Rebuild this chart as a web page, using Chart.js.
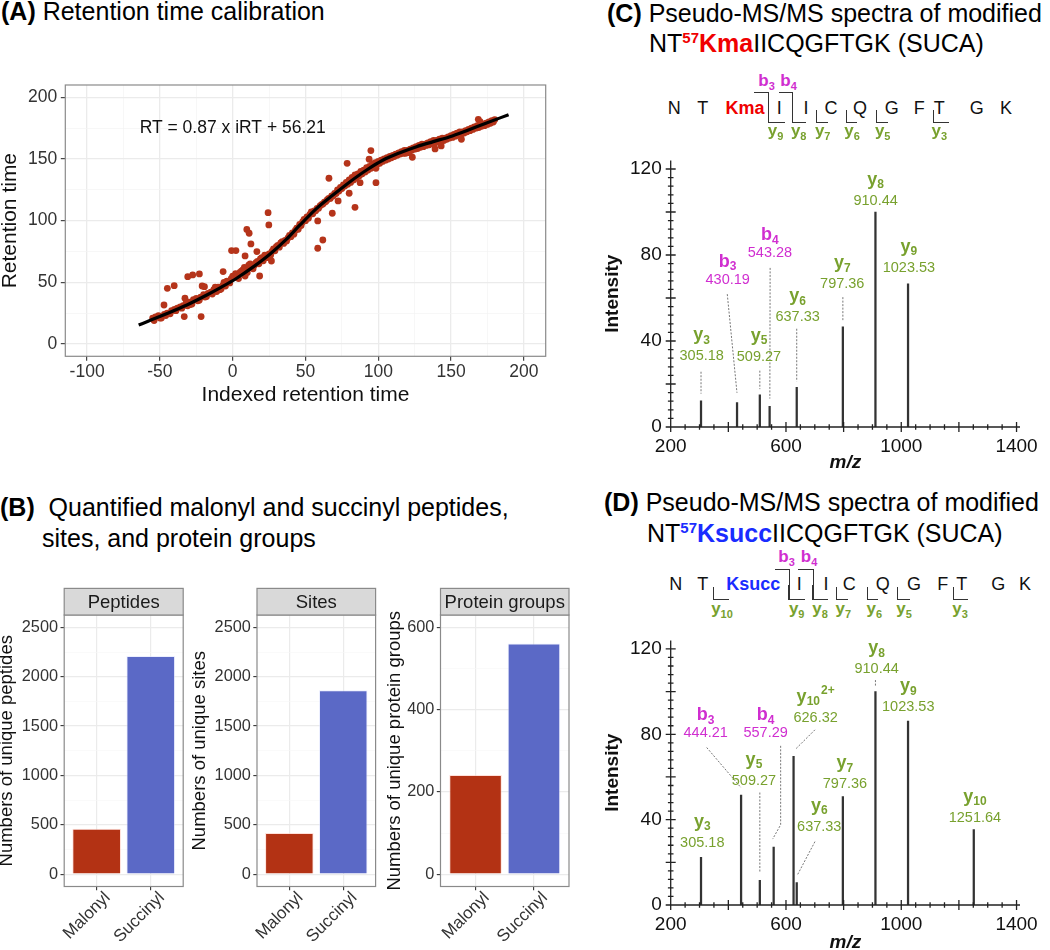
<!DOCTYPE html>
<html>
<head>
<meta charset="utf-8">
<title>Malonyl / succinyl figure</title>
<script src="https://cdn.jsdelivr.net/npm/chart.js@4.4.1/dist/chart.umd.min.js"></script>
<style>
  html, body { margin:0; padding:0; background:#fff; }
  body { position:relative; width:1050px; height:950px; overflow:hidden; font-family:'Liberation Sans', Arial, Helvetica, sans-serif; color:#000; }
  canvas { position:absolute; }
  .t { position:absolute; white-space:nowrap; font-size:25px; line-height:25px; }
  .sup { font-size:15px; font-weight:bold; position:relative; top:-9.5px; }
  .red { color:#f00000; } .blue { color:#1a2cff; }
  .pl { position:absolute; font-size:18px; line-height:18px; transform:translate(-50%,-50%); white-space:nowrap; color:#111; }
  .il { position:absolute; font-size:17px; line-height:17px; font-weight:bold; transform:translate(-50%,-50%); white-space:nowrap; }
  .il sub { font-size:11px; vertical-align:baseline; position:relative; top:4px; }
  .g { color:#78a12e; } .m { color:#d02ed0; }
  .bk { position:absolute; box-sizing:border-box; border:0 solid #333; }
  .bt { border-top-width:1.3px; border-right-width:1.3px; }
  .yb { border-left-width:1.3px; border-bottom-width:1.3px; }
</style>
</head>
<body>
<canvas id="cA" width="560" height="340" style="left:0;top:70px"></canvas>
<canvas id="cB1" width="190" height="380" style="left:0;top:570px"></canvas>
<canvas id="cB2" width="190" height="380" style="left:190px;top:570px"></canvas>
<canvas id="cB3" width="200" height="380" style="left:380px;top:570px"></canvas>
<canvas id="cC" width="460" height="340" style="left:590px;top:140px"></canvas>
<canvas id="cD" width="460" height="340" style="left:590px;top:620px"></canvas>

<!-- panel titles -->
<div class="t" style="left:1px;top:-1px"><b>(A)</b> Retention time calibration</div>
<div class="t" style="left:0px;top:495px"><b>(B)</b>&nbsp; Quantified malonyl and succinyl peptides,</div>
<div class="t" style="left:42px;top:526px">sites, and protein groups</div>
<div class="t" style="left:607px;top:1px"><b>(C)</b> Pseudo-MS/MS spectra of modified</div>
<div class="t" style="left:649px;top:31px">NT<span class="sup red">57</span><b class="red">Kma</b>IICQGFTGK (SUCA)</div>
<div class="t" style="left:604px;top:489.5px"><b>(D)</b> Pseudo-MS/MS spectra of modified</div>
<div class="t" style="left:647px;top:521px">NT<span class="sup blue">57</span><b class="blue">Ksucc</b>IICQGFTGK (SUCA)</div>

<!-- fragment map C -->
<div class="pl" style="left:674.3px;top:108.3px">N</div>
<div class="pl" style="left:702.7px;top:108.3px">T</div>
<div class="pl" style="left:745px;top:108.3px;font-weight:bold;color:#f00000">Kma</div>
<div class="pl" style="left:779.3px;top:108.3px">I</div>
<div class="pl" style="left:806px;top:108.3px">I</div>
<div class="pl" style="left:831px;top:108.3px">C</div>
<div class="pl" style="left:860px;top:108.3px">Q</div>
<div class="pl" style="left:891.7px;top:108.3px">G</div>
<div class="pl" style="left:919.3px;top:108.3px">F</div>
<div class="pl" style="left:939.3px;top:108.3px">T</div>
<div class="pl" style="left:976.7px;top:108.3px">G</div>
<div class="pl" style="left:1006px;top:108.3px">K</div>
<div class="bk bt" style="left:754px;top:92px;width:15.3px;height:30.5px"></div>
<div class="bk yb" style="left:768px;top:108px;width:16.5px;height:14.5px"></div>
<div class="bk bt" style="left:779px;top:92px;width:14px;height:30.5px"></div>
<div class="bk yb" style="left:791.7px;top:108px;width:14px;height:14.5px"></div>
<div class="bk yb" style="left:816.3px;top:110px;width:11.5px;height:12.5px"></div>
<div class="bk yb" style="left:845.7px;top:110px;width:11px;height:12.5px"></div>
<div class="bk yb" style="left:876.3px;top:110px;width:11.5px;height:12.5px"></div>
<div class="bk yb" style="left:933px;top:110px;width:15.5px;height:12.5px"></div>
<div class="il m" style="left:766.5px;top:81px">b<sub>3</sub></div>
<div class="il m" style="left:788.5px;top:81px">b<sub>4</sub></div>
<div class="il g" style="left:775.5px;top:130.5px">y<sub>9</sub></div>
<div class="il g" style="left:798.7px;top:130.5px">y<sub>8</sub></div>
<div class="il g" style="left:822.7px;top:130.5px">y<sub>7</sub></div>
<div class="il g" style="left:852px;top:130.5px">y<sub>6</sub></div>
<div class="il g" style="left:882.7px;top:130.5px">y<sub>5</sub></div>
<div class="il g" style="left:939.3px;top:130.5px">y<sub>3</sub></div>

<!-- fragment map D -->
<div class="pl" style="left:675.7px;top:584px">N</div>
<div class="pl" style="left:702.7px;top:584px">T</div>
<div class="pl" style="left:753.3px;top:584px;font-weight:bold;color:#1a2cff">Ksucc</div>
<div class="pl" style="left:799.3px;top:584px">I</div>
<div class="pl" style="left:826px;top:584px">I</div>
<div class="pl" style="left:849.3px;top:584px">C</div>
<div class="pl" style="left:882.7px;top:584px">Q</div>
<div class="pl" style="left:914px;top:584px">G</div>
<div class="pl" style="left:942.7px;top:584px">F</div>
<div class="pl" style="left:961.7px;top:584px">T</div>
<div class="pl" style="left:998.3px;top:584px">G</div>
<div class="pl" style="left:1025px;top:584px">K</div>
<div class="bk bt" style="left:775.3px;top:569px;width:15px;height:31.3px"></div>
<div class="bk yb" style="left:788.3px;top:585px;width:17px;height:15.3px"></div>
<div class="bk bt" style="left:798.3px;top:569px;width:15.3px;height:31.3px"></div>
<div class="bk yb" style="left:812.3px;top:585px;width:16px;height:15.3px"></div>
<div class="bk yb" style="left:836.3px;top:587px;width:12px;height:13.3px"></div>
<div class="bk yb" style="left:866.7px;top:587px;width:11.7px;height:13.3px"></div>
<div class="bk yb" style="left:897.3px;top:587px;width:12.7px;height:13.3px"></div>
<div class="bk yb" style="left:953px;top:587px;width:15.3px;height:13.3px"></div>
<div class="bk yb" style="left:713px;top:587px;width:16px;height:13.3px"></div>
<div class="il m" style="left:786.5px;top:557.3px">b<sub>3</sub></div>
<div class="il m" style="left:809px;top:557.3px">b<sub>4</sub></div>
<div class="il g" style="left:722px;top:608.5px">y<sub>10</sub></div>
<div class="il g" style="left:796.7px;top:608.5px">y<sub>9</sub></div>
<div class="il g" style="left:820px;top:608.5px">y<sub>8</sub></div>
<div class="il g" style="left:843.3px;top:608.5px">y<sub>7</sub></div>
<div class="il g" style="left:874.3px;top:608.5px">y<sub>6</sub></div>
<div class="il g" style="left:904px;top:608.5px">y<sub>5</sub></div>
<div class="il g" style="left:960px;top:608.5px">y<sub>3</sub></div>

<script>
const FF = "'Liberation Sans', Arial, Helvetica, sans-serif";
Chart.defaults.font.family = FF;
Chart.defaults.color = '#222';
Chart.defaults.animation = false;

// ================= (A) Retention time calibration =================
const curveIRT = [-64.6,-47.6,-31.5,-17.8,-8.7,2.7,14.1,25.5,37.0,46.2,57.7,69.1,80.6,92.0,103.4,114.9,126.3,137.8,149.2,160.6,172.1,189.5];
const curveRT  = [15.4,23.5,31.6,39.7,45.5,53.3,62.5,72.8,85.0,96.5,110.0,121.0,131.6,141.1,149.2,155.1,160.0,164.1,168.1,173.0,178.2,185.9];

const scatterIRT = [
  -55,-53,-51,-49,-47,-45,-42,-40,-38,-36,
  -34,-32,-30,-29,-27,-25,-24,-22,-20,-19,
  -17,-15,-13,-12,-10,-9,-7,-6,-4,-3,
  -1,0,1,2,3,5,6,7,8,9,
  11,12,13,15,16,17,19,20,22,23,
  25,27,28,30,31,33,34,36,38,39,
  41,43,44,46,48,49,51,53,54,56,
  58,60,61,63,65,66,68,70,72,74,
  76,78,80,82,84,86,88,90,92,94,
  96,98,100,102,104,106,108,110,112,114,
  116,118,120,122,124,126,128,130,132,134,
  136,138,140,142,144,146,148,150,152,154,
  156,158,160,162,164,166,168,170,172,174,
  176,178,180];
const scatterRT = [
  21,22,23,21,24,25,27,28,29,30,
  31,33,34,32,36,37,35,38,40,38,
  41,42,44,46,46,44,47,50,51,50,
  53,55,54,57,55,58,59,60,62,61,
  64,65,62,64,66,67,69,70,72,71,
  73,75,77,79,80,82,83,84,86,88,
  90,92,94,97,99,101,103,105,107,108,
  110,112,113,115,117,118,120,122,125,127,
  129,131,133,135,137,138,140,141,143,144,
  146,147,148,149,150,151,152,153,154,155,
  156,157,157,158,159,160,161,162,162,163,
  164,165,165,166,167,167,168,169,170,171,
  172,172,173,174,175,176,177,177,178,179,
  180,181,182];
const scatter2IRT = [
  -54,-50,-46,-43,-39,-35,-31,-28,-23,-18,
  -14,-11,-8,-5,-2,4,10,14,18,21,
  24,26,29,32,35,37,40,42,45,47,
  50,52,55,57,59,62,64,67,69,71,
  73,75,77,79,81,83,85,87,89,91,
  93,95,97,99,101,103,105,107,109,111,
  113,115,117,119,121,123,125,127,129,131,
  133,135,137,139,141,143,145,147,149,151,
  153,155,157,159,161,163,165,167,169,171,
  173,175,177,179];
const scatter2RT = [
  19,21,23,24.5,27,29,31,32.5,35.5,38.5,
  40.5,42.5,44.5,47,49.5,53,58,61,65,67.5,
  70,72,75.5,78.5,81.5,83.5,87,89,93,96,
  100,102,105.5,108,110,113.5,115.5,118,120,122,
  124,126,128,129.5,131,133,134.5,136.5,138,139.5,
  141,142.5,144,145.5,146.5,148,149,150,151,152,
  153,154,154.5,155.5,156,157,158,158.5,159.5,160,
  161,161.5,162.5,163,164,164.5,165,166,167,167.5,
  168.5,169.5,170,171,172,173,174,175,175.5,176.5,
  177,178,179,180];
const outlierIRT = [
  -44.9,-40.2,-47.2,-33.3,-21.7,-30.9,-27.5,-22.9,-21,-19.4,
  -6.6,-0.8,2.2,9.7,11.3,12.5,8.5,18.5,24.3,24.8,
  26.6,16.6,8.5,58.4,58.4,61.9,66.1,68.4,72.4,78.6,
  80,84,87.5,94.9,93.7,98.4,98.4,123.4,139,143.2,
  157.1,168.7,169.9,118.8,-32.8,121.1];
const outlierRT = [
  45.1,47.3,31.6,22.2,22.2,54.6,56,56.8,47,46.5,
  58.7,75.7,75.7,92.9,89.8,81.1,71.4,55.1,106.5,96.5,
  67.3,74.9,55.1,99.8,77.6,84.3,134.4,106,116,146.5,
  122.2,110.8,130.8,156.8,149.8,130.8,142.5,151.4,158.2,160.6,
  166,182.2,180.3,154.6,37.1,155.1];
const equationText = 'RT = 0.87 x iRT + 56.21';
const equationAt = [0, 175];
const aTicksX = [-100,-75,-50,-25,0,25,50,75,100,125,150,175,200];
const aTicksY = [0,25,50,75,100,125,150,175,200];

// ================= (B) Quantified counts =================
const barCategories = ['Malonyl', 'Succinyl'];
const peptideCounts = [461, 2210];
const siteCounts = [417, 1864];
const proteinGroupCounts = [241, 561];
const stripTitles = ['Peptides', 'Sites', 'Protein groups'];
const countTicks = [0,250,500,750,1000,1250,1500,1750,2000,2250,2500];
const groupTicks = [0,100,200,300,400,500,600];

// ================= (C) / (D) pseudo-MS/MS spectra =================
const mzC  = [305.18, 430.19, 509.27, 543.28, 637.33, 797.36, 910.44, 1023.53];
const intC = [12.2, 11.4, 15.0, 9.6, 18.5, 46.6, 100, 66.6];
const ionC = ['y3', 'b3', 'y5', 'b4', 'y6', 'y7', 'y8', 'y9'];
const mzD  = [305.18, 444.21, 509.27, 557.29, 626.32, 637.33, 797.36, 910.44, 1023.53, 1251.64];
const intD = [22.3, 51.5, 11.6, 27.1, 69.7, 10.5, 50.8, 100, 86.2, 35.4];
const ionD = ['y3', 'b3', 'y5', 'b4', 'y10^2+', 'y6', 'y7', 'y8', 'y9', 'y10'];
const specTicksX = [200,250,300,350,400,450,500,550,600,650,700,750,800,850,900,950,1000,1050,1100,1150,1200,1250,1300,1350,1400];
const specLabelsX = [200, 600, 1000, 1400];
const specTicksY = [0,4,8,12,16,20,24,28,32,36,40,44,48,52,56,60,64,68,72,76,80,84,88,92,96,100,104,108,112,116,120];
const specLabelsY = [0, 40, 80, 120];

// label anchors (annotation placement, in axis units)
const labelMzC  = [307.5, 397.7, 506.3, 544.4, 640.5, 795.2, 911.1, 1026.6];
const labelIntC = [41.0, 76.7, 40.7, 89.2, 59.2, 74.5, 113.2, 82.1];
const leadersC = [
  [305.2,25.7, 305.2,15.5],
  [396.3,61.8, 430.0,15.9],
  [509.3,26.2, 509.3,17.6],
  [545.0,74.0, 544.0,13.2],
  [637.3,45.7, 637.3,21.2],
  [797.4,60.4, 797.4,49.6]];
const labelMzD  = [309.6, 321.4, 488.9, 529.5, 702.9, 715.4, 804.6, 914.5, 1024.2, 1255.5];
const labelIntD = [37.2, 88.9, 66.3, 88.9, 96.0, 44.7, 64.8, 118.6, 100.9, 49.0];
const leadersD = [
  [324.9,73.8, 443.8,55.0],
  [509.3,52.7, 509.3,15.5],
  [581.5,74.6, 581.5,37.6, 553.8,30.9],
  [700.5,82.1, 633.6,73.1],
  [700.5,29.7, 640.5,14.3],
  [910.4,105.4, 910.4,102.5]];

// ================= styles =================
const PT_COLOR = '#b5341a';
const BAR_COLORS = ['#b33214', '#5b69c6'];
const BAR_EDGES = ['rgba(255,200,190,0.55)', 'rgba(220,225,255,0.55)'];
const GRN = '#78a12e', MAG = '#d02ed0';

function pts(xs, ys) { return xs.map((x, i) => ({ x: x, y: ys[i] })); }

const framePlugin = {
  id: 'frame',
  afterDatasetsDraw(chart) {
    const { ctx, chartArea: a } = chart;
    ctx.save();
    ctx.strokeStyle = '#8a8a8a'; ctx.lineWidth = 1.2;
    ctx.strokeRect(a.left, a.top, a.right - a.left, a.bottom - a.top);
    ctx.restore();
  }
};

const equationPlugin = {
  id: 'equation',
  afterDatasetsDraw(chart) {
    const { ctx, scales } = chart;
    ctx.save();
    ctx.fillStyle = '#111'; ctx.font = '17.5px ' + FF;
    ctx.textAlign = 'center'; ctx.textBaseline = 'middle';
    ctx.fillText(equationText, scales.x.getPixelForValue(equationAt[0]), scales.y.getPixelForValue(equationAt[1]));
    ctx.restore();
  }
};

const stripPlugin = {
  id: 'strip',
  afterDraw(chart, args, opts) {
    const { ctx, chartArea: a } = chart;
    const h = 26.6;
    ctx.save();
    ctx.fillStyle = '#d9d9d9';
    ctx.fillRect(a.left, a.top - h, a.right - a.left, h);
    ctx.strokeStyle = '#8a8a8a'; ctx.lineWidth = 1.2;
    ctx.strokeRect(a.left, a.top - h, a.right - a.left, h);
    ctx.fillStyle = '#1a1a1a'; ctx.font = '18.5px ' + FF;
    ctx.textAlign = 'center'; ctx.textBaseline = 'middle';
    ctx.fillText(opts.text, (a.left + a.right) / 2, a.top - h / 2 + 1);
    ctx.restore();
  }
};

// rotated category labels (45 deg, right/top justified at the tick)
const catLabelPlugin = {
  id: 'catLabels',
  afterDraw(chart) {
    const { ctx, chartArea: a } = chart;
    const xs = chart.scales.x;
    ctx.save();
    ctx.font = '17px ' + FF; ctx.fillStyle = '#333';
    ctx.textAlign = 'right'; ctx.textBaseline = 'top';
    xs.ticks.forEach((t, i) => {
      const px = xs.getPixelForValue(t.value);
      ctx.save();
      ctx.translate(px + 5, a.bottom + 2.5);
      ctx.rotate(-Math.PI / 4);
      ctx.fillText(barCategories[i], 0, 0);
      ctx.restore();
    });
    ctx.restore();
  }
};

// ---------- chart A ----------
new Chart(document.getElementById('cA'), {
  type: 'scatter',
  data: { datasets: [
    { data: pts(scatterIRT, scatterRT), backgroundColor: PT_COLOR, pointRadius: 3.4, pointHoverRadius: 3.4, pointBorderWidth: 0, order: 4 },
    { data: pts(scatter2IRT, scatter2RT), backgroundColor: PT_COLOR, pointRadius: 3.4, pointHoverRadius: 3.4, pointBorderWidth: 0, order: 3 },
    { data: pts(outlierIRT, outlierRT), backgroundColor: PT_COLOR, pointRadius: 3.4, pointHoverRadius: 3.4, pointBorderWidth: 0, order: 2 },
    { type: 'line', data: pts(curveIRT, curveRT), borderColor: '#000', borderWidth: 3.2, pointRadius: 0, fill: false, cubicInterpolationMode: 'monotone', order: 1 }
  ]},
  options: {
    responsive: false, devicePixelRatio: 1, animation: false,
    layout: { padding: { left: 0, right: 14.3, top: 15, bottom: 0 } },
    plugins: { legend: { display: false }, tooltip: { enabled: false } },
    scales: {
      x: {
        type: 'linear', min: -115, max: 215,
        afterBuildTicks: s => { s.ticks = aTicksX.map(v => ({ value: v })); },
        afterFit: s => { s.height = 53.7; },
        border: { display: false },
        grid: {
          color: c => (c.tick && c.tick.value % 50 === 0) ? '#ebebeb' : '#f4f4f4',
          lineWidth: c => (c.tick && c.tick.value % 50 === 0) ? 1.3 : 0.7,
          tickColor: c => (c.tick && c.tick.value % 50 === 0) ? '#333' : 'rgba(0,0,0,0)',
          tickLength: 4.5, tickWidth: 1.1
        },
        ticks: { autoSkip: false, maxRotation: 0, padding: 0.5, font: { size: 17.5 }, color: '#333',
                 callback: v => (v % 50 === 0 ? String(v) : '') },
        title: { display: true, text: 'Indexed retention time', color: '#111', font: { size: 21, lineHeight: 1 }, padding: { top: 0, bottom: 4.5 } }
      },
      y: {
        type: 'linear', min: -10, max: 210,
        afterBuildTicks: s => { s.ticks = aTicksY.map(v => ({ value: v })); },
        afterFit: s => { s.width = 65.3; },
        border: { display: false },
        grid: {
          color: c => (c.tick && c.tick.value % 50 === 0) ? '#ebebeb' : '#f4f4f4',
          lineWidth: c => (c.tick && c.tick.value % 50 === 0) ? 1.3 : 0.7,
          tickColor: c => (c.tick && c.tick.value % 50 === 0) ? '#333' : 'rgba(0,0,0,0)',
          tickLength: 4.5, tickWidth: 1.1
        },
        ticks: { autoSkip: false, padding: 3.5, font: { size: 17.5 }, color: '#333',
                 callback: v => (v % 50 === 0 ? String(v) : '') },
        title: { display: true, text: 'Retention time', color: '#111', font: { size: 21, lineHeight: 0.96 }, padding: 0 }
      }
    }
  },
  plugins: [equationPlugin, framePlugin]
});

// ---------- charts B ----------
function makeBar(id, vals, yMin, yMax, yTicks, majorStep, strip, yTitle, g) {
  return new Chart(document.getElementById(id), {
    type: 'bar',
    data: { datasets: [{
      data: vals.map((v, i) => ({ x: i + 1, y: v })),
      backgroundColor: BAR_COLORS, borderColor: BAR_EDGES, borderWidth: 1,
      barPercentage: 0.9, categoryPercentage: 1.0
    }]},
    options: {
      responsive: false, devicePixelRatio: 1, animation: false,
      layout: { padding: { left: 0, right: g.padR, top: 45, bottom: 0 } },
      plugins: { legend: { display: false }, tooltip: { enabled: false }, strip: { text: strip } },
      scales: {
        x: {
          type: 'linear', min: 0.4, max: 2.6, offset: false,
          afterBuildTicks: s => { s.ticks = barCategories.map((c, i) => ({ value: i + 1 })); },
          afterFit: s => { s.height = 63.5; },
          border: { display: false },
          grid: { offset: false, color: '#ebebeb', lineWidth: 1.2, tickColor: '#333', tickLength: 3.7, tickWidth: 1.1 },
          ticks: { display: false }
        },
        y: {
          type: 'linear', min: yMin, max: yMax,
          afterBuildTicks: s => { s.ticks = yTicks.map(v => ({ value: v })); },
          afterFit: s => { s.width = g.axisW; },
          border: { display: false },
          grid: {
            color: c => (c.tick && c.tick.value % majorStep === 0) ? '#ebebeb' : '#f6f6f6',
            lineWidth: c => (c.tick && c.tick.value % majorStep === 0) ? 1.2 : 0.6,
            tickColor: c => (c.tick && c.tick.value % majorStep === 0) ? '#333' : 'rgba(0,0,0,0)',
            tickLength: 3.7, tickWidth: 1.1
          },
          ticks: { autoSkip: false, padding: 2.5, font: { size: 16.3 }, color: '#333',
                   callback: v => (v % majorStep === 0 ? String(v) : '') },
          title: { display: true, text: yTitle, color: '#111', font: { size: 18.5, lineHeight: g.titleLH }, padding: 0 }
        }
      }
    },
    plugins: [stripPlugin, framePlugin, catLabelPlugin]
  });
}
makeBar('cB1', peptideCounts, -125, 2625, countTicks, 500, stripTitles[0], 'Numbers of unique peptides', { axisW: 64.2, padR: 6.8, titleLH: 0.735 });
makeBar('cB2', siteCounts, -125, 2625, countTicks, 500, stripTitles[1], 'Numbers of unique sites', { axisW: 67, padR: 4.4, titleLH: 1.027 });
makeBar('cB3', proteinGroupCounts, -30, 630, groupTicks, 200, stripTitles[2], 'Numbers of unique protein groups', { axisW: 60.5, padR: 11, titleLH: 1.62 });

// ---------- charts C / D ----------
function drawIon(ctx, cx, cy, lab, valTxt) {
  const isB = lab[0] === 'b';
  let rest = lab.slice(1), sup = '';
  if (rest.indexOf('^') >= 0) { sup = rest.split('^')[1]; rest = rest.split('^')[0]; }
  const fBig = 'bold 18px ' + FF, fSmall = 'bold 12px ' + FF;
  ctx.font = fBig; const w1 = ctx.measureText(lab[0]).width;
  ctx.font = fSmall; const w2 = ctx.measureText(rest).width;
  const w3 = sup ? ctx.measureText(sup).width + 1 : 0;
  const x = cx - (w1 + w2 + w3) / 2;
  const my = isB ? cy : cy - 3.5;
  ctx.fillStyle = isB ? MAG : GRN;
  ctx.textAlign = 'left'; ctx.textBaseline = 'middle';
  ctx.font = fBig; ctx.fillText(lab[0], x, my);
  ctx.font = fSmall; ctx.fillText(rest, x + w1, my + 5);
  if (sup) ctx.fillText(sup, x + w1 + w2 + 1, my - 6);
  ctx.font = '14.5px ' + FF; ctx.textAlign = 'center';
  ctx.fillText(valTxt, cx, cy + 17.5);
}

function specPlugin(mz, ions, labMz, labInt, leaders) {
  return {
    id: 'specDeco',
    afterDraw(chart) {
      const { ctx } = chart;
      const xs = chart.scales.x, ys = chart.scales.y;
      const X = v => xs.getPixelForValue(v), Y = v => ys.getPixelForValue(v);
      ctx.save();
      ctx.strokeStyle = '#777'; ctx.lineWidth = 1; ctx.setLineDash([2, 1.5]);
      leaders.forEach(L => {
        ctx.beginPath();
        for (let k = 0; k < L.length; k += 2) {
          const px = X(L[k]), py = Y(L[k + 1]);
          if (k === 0) ctx.moveTo(px, py); else ctx.lineTo(px, py);
        }
        ctx.stroke();
      });
      ctx.setLineDash([]);
      ctx.strokeStyle = '#222'; ctx.lineWidth = 1.3;
      const x0 = X(xs.min), x1 = X(xs.max), y0 = Y(0), y1 = Y(ys.max);
      ctx.beginPath();
      ctx.moveTo(x0, y0); ctx.lineTo(x1, y0);
      ctx.moveTo(x0, y0); ctx.lineTo(x0, y1);
      xs.ticks.forEach(t => { const p = X(t.value), L = t.value % 200 === 0 ? 5 : 2.8; ctx.moveTo(p, y0 - L); ctx.lineTo(p, y0 + L); });
      ys.ticks.forEach(t => { const p = Y(t.value), L = t.value % 20 === 0 ? 5 : 2.8; ctx.moveTo(x0 - L, p); ctx.lineTo(x0 + L, p); });
      ctx.stroke();
      ions.forEach((lab, i) => drawIon(ctx, X(labMz[i]), Y(labInt[i]), lab, mz[i].toFixed(2)));
      ctx.restore();
    }
  };
}

function makeSpec(id, mz, inten, ions, labMz, labInt, leaders, g) {
  return new Chart(document.getElementById(id), {
    type: 'bar',
    data: { datasets: [{ data: pts(mz, inten), backgroundColor: '#333', borderWidth: 0, barThickness: 1.6 }] },
    options: {
      responsive: false, devicePixelRatio: 1, animation: false,
      layout: { padding: { left: 0, right: 30, top: g.top, bottom: 0 } },
      plugins: { legend: { display: false }, tooltip: { enabled: false } },
      scales: {
        x: {
          type: 'linear', min: 200, max: 1412, offset: false,
          afterBuildTicks: s => { s.ticks = specTicksX.map(v => ({ value: v })); },
          afterFit: s => { s.height = g.xH; },
          border: { display: false },
          grid: { display: false, drawTicks: false, offset: false },
          ticks: { autoSkip: false, maxRotation: 0, padding: 8.3, font: { size: 19 }, color: '#111',
                   callback: v => (specLabelsX.includes(v) ? String(v) : '') },
          title: { display: true, text: 'm/z', color: '#111', font: { size: 19, weight: 'bold', style: 'italic', lineHeight: 1 }, padding: { top: 0, bottom: 7.5 } }
        },
        y: {
          type: 'linear', min: 0, max: 124,
          afterBuildTicks: s => { s.ticks = specTicksY.map(v => ({ value: v })); },
          afterFit: s => { s.width = 80.7; },
          border: { display: false },
          grid: { display: false, drawTicks: false },
          ticks: { autoSkip: false, padding: 9, font: { size: 19 }, color: '#111',
                   callback: v => (specLabelsY.includes(v) ? String(v) : '') },
          title: { display: true, text: 'Intensity', color: '#111', font: { size: 19, weight: 'bold', lineHeight: 2.35 }, padding: 0 }
        }
      }
    },
    plugins: [specPlugin(mz, ions, labMz, labInt, leaders)]
  });
}
makeSpec('cC', mzC, intC, ionC, labelMzC, labelIntC, leadersC, { top: 12, xH: 53 });
makeSpec('cD', mzD, intD, ionD, labelMzD, labelIntD, leadersD, { top: 10.6, xH: 55 });
</script>
</body>
</html>
